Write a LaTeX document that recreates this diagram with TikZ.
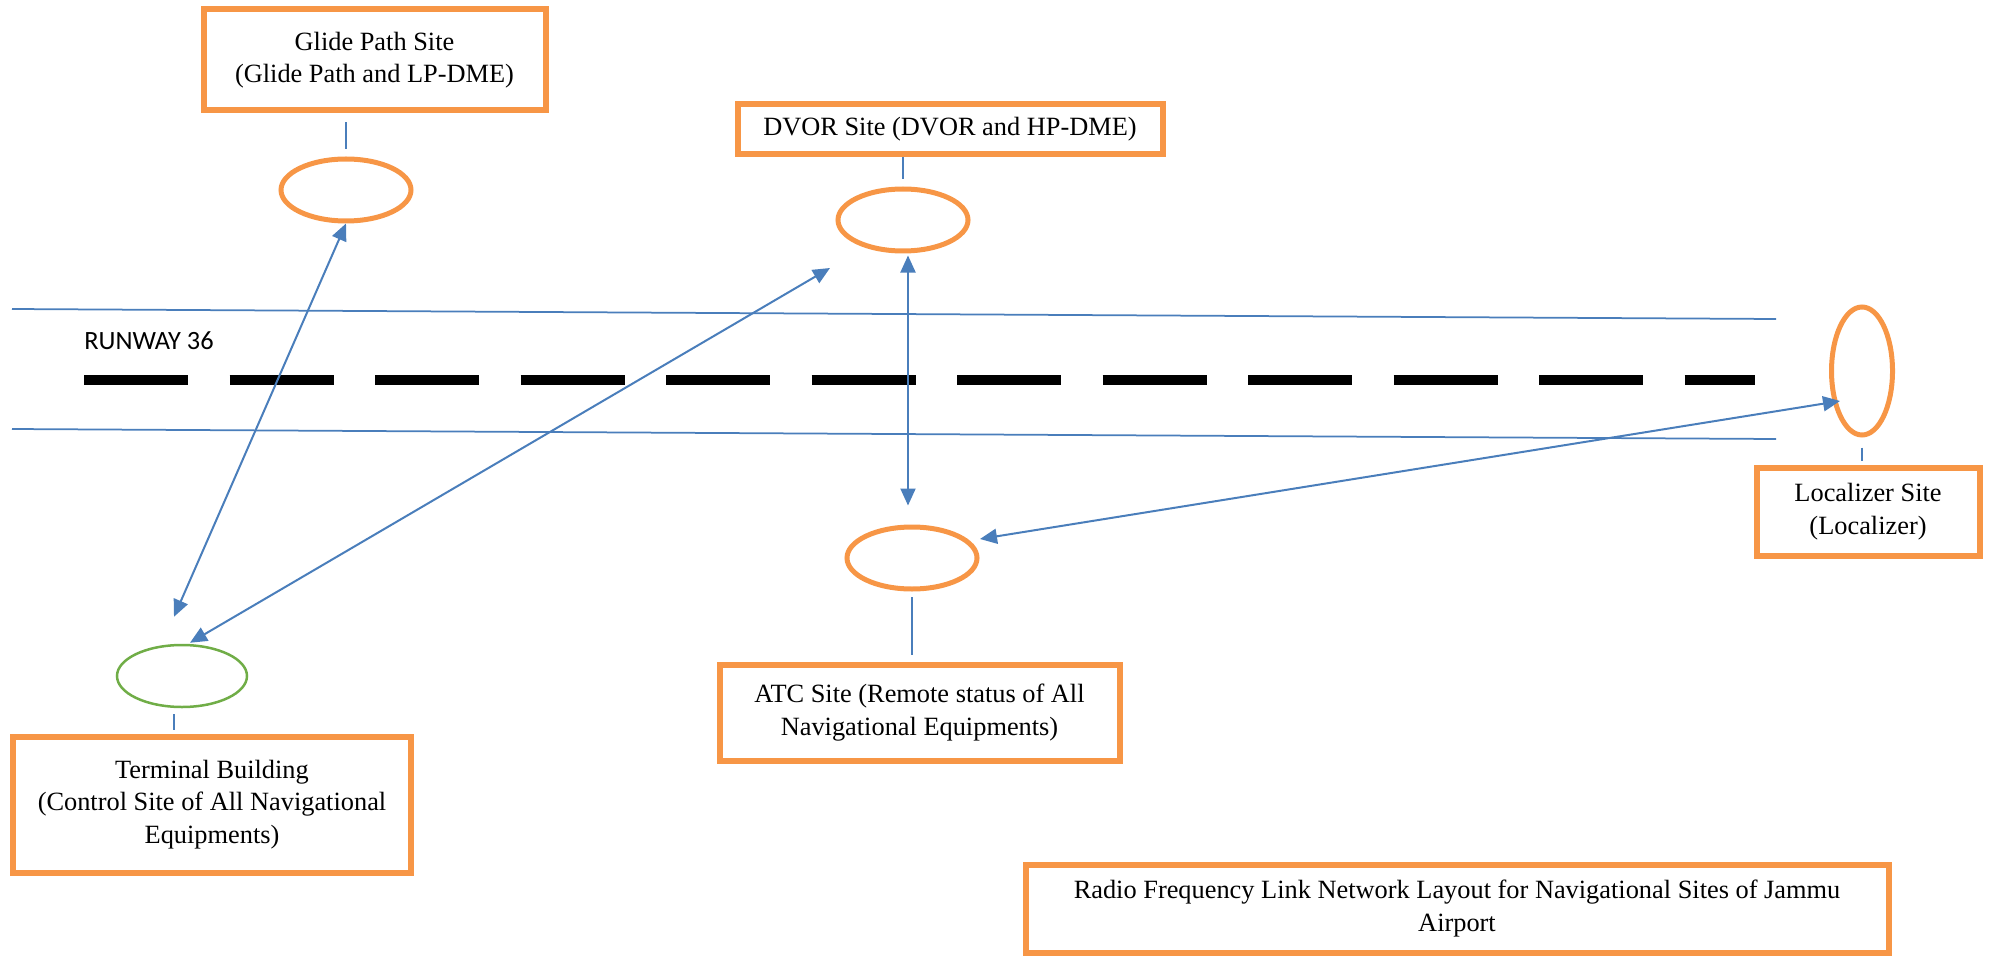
\documentclass[tikz,border=0pt]{standalone}
\usepackage{fontspec}
\setmainfont{Liberation Serif}
\newfontfamily\rwyfont{Carlito}
\usepackage{tikz}
\usetikzlibrary{calc}
\usetikzlibrary{positioning, arrows.meta, shapes.geometric}
\definecolor{siteorange}{HTML}{F79646}
\definecolor{linkblue}{HTML}{4A7EBB}
\definecolor{ctrlgreen}{HTML}{70AD47}
\tikzset{
    sitebox/.style={draw=siteorange, line width=1.2mm, align=center, inner sep=0pt, font=\fontsize{15}{18.5}\selectfont},
    antenna/.style={draw=siteorange, ellipse, line width=1mm, minimum width=26mm, minimum height=12.4mm, inner sep=0pt},
    link/.style={draw=linkblue, line width=0.4mm, {Triangle[length=3.4mm,width=3mm]}-{Triangle[length=3.4mm,width=3mm]}},
    tie/.style={draw=linkblue, line width=0.3mm},
    edge/.style={draw=linkblue, line width=0.35mm}
}

\begin{document}
\begin{tikzpicture}[x=0.2mm, y=-0.2mm]
    \useasboundingbox (0,0) rectangle (1992,957);
    % runway
    \draw [edge] (12,309) -- (1776,319);
    \draw [edge] (12,429) -- (1776,439);
    \draw [line width=2mm, dash pattern=on 20.8mm off 8.3mm] (84,380) -- (1755,380);
    \node (Rwy) [anchor=west, inner sep=0pt, font=\rwyfont\fontsize{15}{18}\selectfont] at (84,341) {RUNWAY 36};

    % sites
    \node (GPbox) [sitebox, minimum width=68.4mm, minimum height=20.2mm] at (374.5,60) {Glide Path Site\\(Glide Path and LP-DME)};
    \node (GP) [antenna] at (346,190) {};
    \node (DVbox) [sitebox, minimum width=85mm, minimum height=10mm] at (950,129.5) {DVOR Site (DVOR and HP-DME)};
    \node (DV) [antenna] at (903,220) {};
    \node (LOC) [antenna, minimum width=12.2mm, minimum height=25.6mm] at (1862,371) {};
    \node (LOCbox) [sitebox, minimum width=44.6mm, minimum height=17.6mm] at (1868,511.5) {Localizer Site\\(Localizer)};
    \node (ATC) [antenna] at (912,558) {};
    \node (ATCbox) [sitebox, minimum width=80mm, minimum height=19.2mm] at (919.5,712.5) {ATC Site (Remote status of All\\Navigational Equipments)};
    \node (TB) [antenna, draw=ctrlgreen, line width=0.5mm] at (182,676) {};
    \node (TBbox) [sitebox, minimum width=79.4mm, minimum height=27.2mm] at (212,804.5) {Terminal Building\\(Control Site of All Navigational\\Equipments)};
    \node (Title) [sitebox, minimum width=172.6mm, minimum height=17.6mm] at (1457,908.5) {Radio Frequency Link Network Layout for Navigational Sites of Jammu\\Airport};

    % site to antenna
    \draw [tie, shorten <=1.8mm, shorten >=1.4mm] (GP.north |- GPbox.south) -- (GP.north);
    \draw [tie, shorten >=1.4mm] (DV.north |- DVbox.south) -- (DV.north);
    \draw [tie, shorten <=2mm, shorten >=0.7mm] (LOC.south) -- (LOC.south |- LOCbox.north);
    \draw [tie, shorten <=1.1mm, shorten >=1.3mm] (ATC.south) -- (ATC.south |- ATCbox.north);
    \draw [tie, shorten <=1.2mm, shorten >=0.7mm] ($(TB.south)+(-8,0)$) -- ($(TB.south |- TBbox.north)+(-8,0)$);

    % radio links
    \draw [link] (GP.south) -- ($(TB.north)+(-8,-27)$);
    \draw [link] ($(DV.center)+(-73,48)$) -- ($(TB.north)+(8,-1)$);
    \draw [link] ($(DV.south)+(5,2)$) -- ($(ATC.north)+(-4,-19)$);
    \draw [link] ($(LOC.center)+(-22,30)$) -- ($(ATC.center)+(68,-19)$);
\end{tikzpicture}
\end{document}
